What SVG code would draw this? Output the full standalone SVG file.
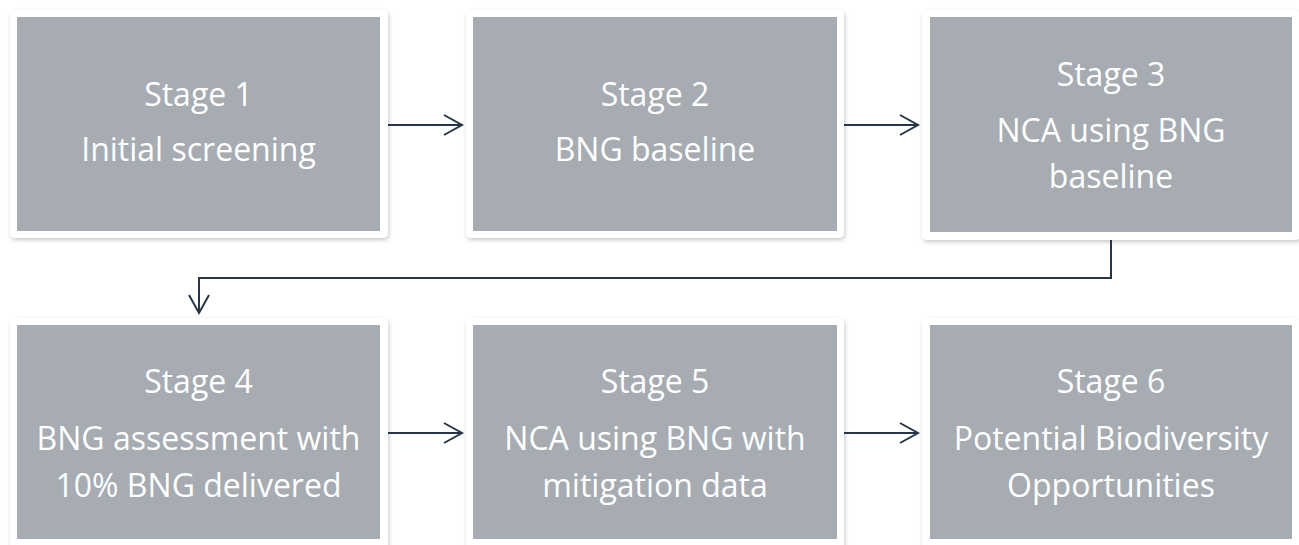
<svg xmlns="http://www.w3.org/2000/svg" width="1299" height="545" viewBox="0 0 1299 545">
  <defs>
    <filter id="cardShadow" x="-5%" y="-5%" width="112%" height="115%">
      <feDropShadow dx="1" dy="2" stdDeviation="2" flood-color="#000" flood-opacity="0.22"/>
    </filter>
    <marker id="chevron" viewBox="0 0 18 20" refX="18" refY="10" markerWidth="18" markerHeight="20" markerUnits="userSpaceOnUse" orient="auto" overflow="visible">
      <path d="M0,0 L18,10 L0,20" fill="none" stroke="#263646" stroke-width="2" stroke-linejoin="miter"/>
    </marker>
  </defs>
  <style>
    .card { fill: #ffffff; filter: url(#cardShadow); }
    .panel { fill: #a6acb2; }
    .label { font-family: "Open Sans", "Noto Sans", sans-serif; font-size: 32px; fill: #ffffff; text-anchor: middle; }
    .link { fill: none; stroke: #263646; stroke-width: 2; marker-end: url(#chevron); }
  </style>
  <rect width="1299" height="545" fill="#ffffff"/>

  <!-- Row 1 -->
  <g id="stage1">
    <rect class="card" x="10" y="10" width="378" height="228" rx="5"/>
    <rect class="panel" x="17" y="17" width="363" height="214"/>
    <text class="label" x="198.5" y="106">Stage 1</text>
    <text class="label" x="198.5" y="161">Initial screening</text>
  </g>
  <g id="stage2">
    <rect class="card" x="466" y="10" width="378" height="228" rx="5"/>
    <rect class="panel" x="473" y="17" width="364" height="214"/>
    <text class="label" x="655" y="106">Stage 2</text>
    <text class="label" x="655" y="161">BNG baseline</text>
  </g>
  <g id="stage3">
    <rect class="card" x="922" y="10" width="378" height="230" rx="5"/>
    <rect class="panel" x="930" y="17" width="362" height="215"/>
    <text class="label" x="1111" y="86">Stage 3</text>
    <text class="label" x="1111" y="142">NCA using BNG</text>
    <text class="label" x="1111" y="188">baseline</text>
  </g>

  <!-- Row 2 -->
  <g id="stage4">
    <rect class="card" x="10" y="318" width="378" height="240" rx="5"/>
    <rect class="panel" x="17" y="325" width="363" height="214"/>
    <text class="label" x="198.5" y="393">Stage 4</text>
    <text class="label" x="198.5" y="450">BNG assessment with</text>
    <text class="label" x="198.5" y="497">10% BNG delivered</text>
  </g>
  <g id="stage5">
    <rect class="card" x="466" y="318" width="378" height="240" rx="5"/>
    <rect class="panel" x="473" y="325" width="364" height="214"/>
    <text class="label" x="655" y="393">Stage 5</text>
    <text class="label" x="655" y="450">NCA using BNG with</text>
    <text class="label" x="655" y="497">mitigation data</text>
  </g>
  <g id="stage6">
    <rect class="card" x="922" y="318" width="378" height="240" rx="5"/>
    <rect class="panel" x="930" y="325" width="362" height="214"/>
    <text class="label" x="1111" y="393">Stage 6</text>
    <text class="label" x="1111" y="450">Potential Biodiversity</text>
    <text class="label" x="1111" y="497">Opportunities</text>
  </g>

  <!-- Connectors -->
  <g id="connectors">
    <path class="link" d="M388,125 H462"/>
    <path class="link" d="M844,125 H918"/>
    <path class="link" d="M1111,240 V278 H199 V313"/>
    <path class="link" d="M388,433 H462"/>
    <path class="link" d="M844,433 H918"/>
  </g>
</svg>
